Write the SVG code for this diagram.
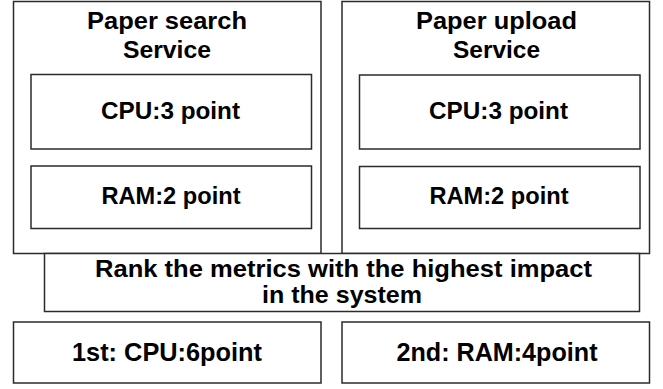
<svg xmlns="http://www.w3.org/2000/svg" width="663" height="389" viewBox="0 0 663 389">
  <style>
    .box { fill: #ffffff; stroke: #2b2b2b; stroke-width: 1.5; }
    .lbl { font-family: "Liberation Sans", Arial, sans-serif; font-weight: bold; fill: #000000; text-anchor: middle; }
    .title { font-size: 24.5px; }
    .metric { font-size: 24px; }
    .rank { font-size: 24px; }
    .result { font-size: 26px; }
  </style>
  <rect width="663" height="389" fill="#ffffff"/>

  <g id="search-service">
    <rect class="box" x="13.5" y="1.5" width="307.5" height="252"/>
    <text class="lbl title" x="167" y="29" textLength="160" lengthAdjust="spacingAndGlyphs">Paper search</text>
    <text class="lbl title" x="167" y="58" textLength="88" lengthAdjust="spacingAndGlyphs">Service</text>
  </g>
  <g id="search-cpu">
    <rect class="box" x="31" y="74.5" width="280.5" height="74.5"/>
    <text class="lbl metric" x="170.5" y="119" textLength="139" lengthAdjust="spacingAndGlyphs">CPU:3 point</text>
  </g>
  <g id="search-ram">
    <rect class="box" x="31" y="166" width="280.5" height="62.5"/>
    <text class="lbl metric" x="171" y="204" textLength="139" lengthAdjust="spacingAndGlyphs">RAM:2 point</text>
  </g>

  <g id="upload-service">
    <rect class="box" x="342" y="1.5" width="307.5" height="252"/>
    <text class="lbl title" x="496.5" y="29" textLength="161" lengthAdjust="spacingAndGlyphs">Paper upload</text>
    <text class="lbl title" x="496.5" y="58" textLength="87" lengthAdjust="spacingAndGlyphs">Service</text>
  </g>
  <g id="upload-cpu">
    <rect class="box" x="359.5" y="75" width="280.5" height="74"/>
    <text class="lbl metric" x="498.5" y="119" textLength="139" lengthAdjust="spacingAndGlyphs">CPU:3 point</text>
  </g>
  <g id="upload-ram">
    <rect class="box" x="359.5" y="166.5" width="280.5" height="62"/>
    <text class="lbl metric" x="499" y="204" textLength="139" lengthAdjust="spacingAndGlyphs">RAM:2 point</text>
  </g>

  <g id="rank">
    <rect class="box" x="44.5" y="253.5" width="595" height="58"/>
    <text class="lbl rank" x="343.5" y="277" textLength="497" lengthAdjust="spacingAndGlyphs">Rank the metrics with the highest impact</text>
    <text class="lbl rank" x="342" y="303" textLength="160" lengthAdjust="spacingAndGlyphs">in the system</text>
  </g>

  <g id="first">
    <rect class="box" x="13.5" y="322" width="307.5" height="61"/>
    <text class="lbl result" x="167" y="361" textLength="190" lengthAdjust="spacingAndGlyphs">1st: CPU:6point</text>
  </g>
  <g id="second">
    <rect class="box" x="342" y="322" width="307.5" height="61"/>
    <text class="lbl result" x="497" y="361" textLength="201" lengthAdjust="spacingAndGlyphs">2nd: RAM:4point</text>
  </g>

  <g id="connectors"/>
</svg>
